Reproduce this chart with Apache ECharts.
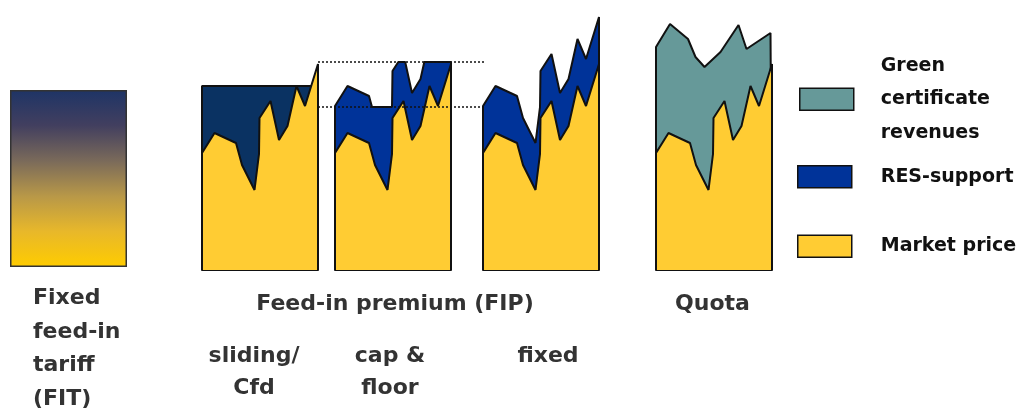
<!DOCTYPE html>
<html>
<head>
<meta charset="utf-8">
<script src="https://cdn.jsdelivr.net/npm/echarts@6/dist/echarts.min.js"></script>
<style>
  html, body { margin: 0; padding: 0; background: #fff; }
  #chart { width: 1017px; height: 414px; }
</style>
</head>
<body>
<div id="chart"></div>
<script>
// Revenue profiles of renewable support schemes (price units, 0 = panel base)
const steps = [0, 12.5, 34, 40, 52.5, 57, 57.5, 68.5, 77, 85.5, 94.5, 103, 116];
const marketPrice = [117, 137, 127, 105, 80, 116, 152, 169, 130, 144, 184, 164, 206];

const fitTariff = 177;

const slidingSteps = [0, 116];
const slidingStrike = [184, 184];

const premiumCap = 208;
const premiumFloor = 163;
const capFloorSteps = [0, 12.5, 34, 37, 57, 57.5, 63.3, 70.2, 77, 85.5, 89.3, 116];
const capFloorTotal = [164, 184, 174, 163, 163, 199, 208, 208, 177, 191, 208, 208];

const fixedPremiumTotal = [164, 184, 174, 152, 127, 163, 199, 216, 177, 191, 231, 211, 253];

const quotaSteps = [0, 14, 32, 39.5, 48.5, 64.5, 82.5, 90.5, 114.5, 116];
const quotaTotal = [223, 246, 231, 213, 203, 218, 245, 221, 237, 237];

const schemeLabels = ['Fixed\nfeed-in\ntariff\n(FIT)', 'Feed-in premium (FIP)', 'Quota'];
const variantLabels = ['sliding/\nCfd', 'cap &\nfloor', 'fixed'];
const legendNames = ['Green certificate revenues', 'RES-support', 'Market price'];

// Colours
const YELLOW = '#ffcc33';
const BLUE = '#003399';
const NAVY = '#0a3262';
const TEAL = '#669999';
const EDGE = '#111';
const FONT = '"DejaVu Sans", Verdana, sans-serif';

// Closed profile: rises from the base at the first step, falls back at the last
function profile(xs, ys) {
  const pts = [[xs[0], 0]];
  xs.forEach((x, i) => pts.push([x, ys[i]]));
  pts.push([xs[xs.length - 1], 0]);
  return pts;
}

const chart = echarts.init(document.getElementById('chart'), null, { renderer: 'canvas' });

// Panel layout (px)
const PANEL_H = 270;
const panels = [
  { left: 202, width: 116 },   // sliding / CfD
  { left: 335, width: 116 },   // cap & floor
  { left: 483, width: 116 },   // fixed premium
  { left: 656, width: 116 }    // quota
];

const grids = [];
const xAxes = [];
const yAxes = [];
const series = [];

// Fixed feed-in tariff box
grids.push({ left: 10, width: 117, top: 0, height: 267 });
xAxes.push({ type: 'category', gridIndex: 0, data: ['FIT'], show: false });
yAxes.push({ type: 'value', gridIndex: 0, min: 0, max: 267, show: false });
series.push({
  type: 'bar', name: 'Feed-in tariff', xAxisIndex: 0, yAxisIndex: 0,
  data: [fitTariff], barWidth: '100%',
  itemStyle: {
    color: new echarts.graphic.LinearGradient(0, 0, 0, 1, [
      { offset: 0, color: '#1e3466' },
      { offset: 0.2, color: '#423f5f' },
      { offset: 0.4, color: '#7a6a5a' },
      { offset: 0.6, color: '#b89848' },
      { offset: 0.8, color: '#e8b82a' },
      { offset: 1, color: '#ffcc00' }
    ]),
    borderColor: '#333', borderWidth: 1.5
  },
  silent: true
});

panels.forEach((p, i) => {
  const gi = i + 1;
  grids.push({ left: p.left, width: p.width, top: 0, height: PANEL_H });
  xAxes.push({
    type: 'value', gridIndex: gi, min: 0, max: 116,
    axisLine: { show: true, onZero: true, lineStyle: { color: EDGE, width: 2 } },
    axisTick: { show: false }, axisLabel: { show: false }, splitLine: { show: false }
  });
  yAxes.push({ type: 'value', gridIndex: gi, min: 0, max: 270, show: false });
});

function area(name, gi, data, fill, z) {
  return {
    type: 'line', name, xAxisIndex: gi, yAxisIndex: gi, data,
    symbol: 'none', clip: false, z, silent: true,
    lineStyle: { color: EDGE, width: 2 },
    itemStyle: { color: fill },
    areaStyle: { color: fill, opacity: 1 }
  };
}

// Upper envelopes (support on top of market price)
series.push(area('RES-support', 1, profile(slidingSteps, slidingStrike), NAVY, 2));
series.push(area('RES-support', 2, profile(capFloorSteps, capFloorTotal), BLUE, 2));
series.push(area('RES-support', 3, profile(steps, fixedPremiumTotal), BLUE, 2));
series.push(area('Green certificate revenues', 4, profile(quotaSteps, quotaTotal), TEAL, 2));
// Market price in every panel
[1, 2, 3, 4].forEach(gi => series.push(area('Market price', gi, profile(steps, marketPrice), YELLOW, 3)));

// Cap and floor reference levels
grids.push({ left: 318, width: 166, top: 0, height: PANEL_H });
xAxes.push({ type: 'value', gridIndex: 5, min: 0, max: 1, show: false });
yAxes.push({ type: 'value', gridIndex: 5, min: 0, max: 270, show: false });
[premiumCap, premiumFloor].forEach(v => series.push({
  type: 'line', name: 'level', xAxisIndex: 5, yAxisIndex: 5,
  data: [[0, v], [1, v]], symbol: 'none', clip: false, z: 5, silent: true,
  lineStyle: { color: EDGE, width: 1.5, type: [2, 2] }
}));

// Legend: one block per revenue component
const legendColors = [TEAL, BLUE, YELLOW];
const legendTops = [45, 165, 234.5];
const legendText = ['Green\ncertificate\nrevenues', 'RES-support', 'Market price'];
const legends = legendNames.map((n, i) => ({
  data: [{ name: n, itemStyle: { color: legendColors[i] } }],
  left: i === 0 ? 799 : 797, top: legendTops[i], orient: 'vertical',
  padding: 0, icon: 'rect', itemWidth: 54, itemHeight: 22,
  selectedMode: false,
  itemStyle: { borderColor: EDGE, borderWidth: 1.5 },
  formatter: () => legendText[i],
  textStyle: {
    fontFamily: FONT, fontWeight: 'bold', fontSize: 19, color: '#111',
    lineHeight: i === 0 ? 33.5 : 22,
    padding: i === 0 ? [0, 0, 8, 22] : [0, 0, 0, 24]
  }
}));

// Scheme captions
const textStyle = (align, lh) => ({
  fill: '#333', fontFamily: FONT, fontWeight: 'bold', fontSize: 22,
  align, verticalAlign: 'top', lineHeight: lh
});
const captions = [
  { text: schemeLabels[0], x: 33, y: 282, align: 'left', lh: 33.5 },
  { text: schemeLabels[1], x: 395, y: 288, align: 'center', lh: 33.5 },
  { text: schemeLabels[2], x: 712.5, y: 288, align: 'center', lh: 33.5 },
  { text: variantLabels[0], x: 254, y: 340, align: 'center', lh: 32 },
  { text: variantLabels[1], x: 390, y: 340, align: 'center', lh: 32 },
  { text: variantLabels[2], x: 548, y: 340, align: 'center', lh: 32 }
];

chart.setOption({
  animation: false,
  backgroundColor: '#fff',
  textStyle: { fontFamily: FONT },
  grid: grids,
  xAxis: xAxes,
  yAxis: yAxes,
  legend: legends,
  series,
  graphic: captions.map(c => ({
    type: 'text', x: c.x, y: c.y, silent: true,
    style: Object.assign({ text: c.text }, textStyle(c.align, c.lh))
  }))
});
</script>
</body>
</html>
